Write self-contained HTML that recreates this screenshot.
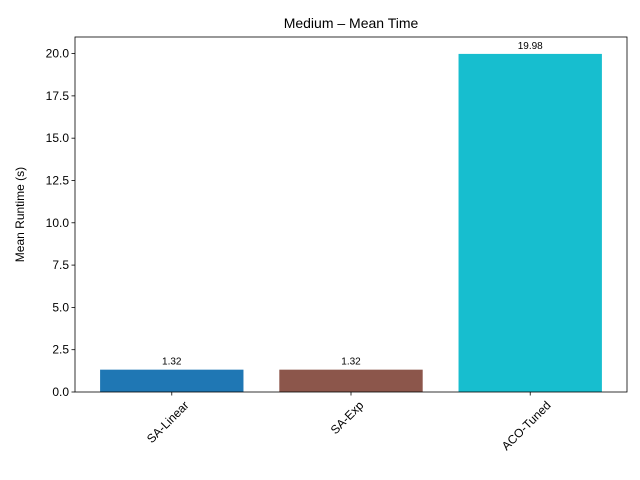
<!DOCTYPE html>
<html><head><meta charset="utf-8"><style>body{margin:0;background:#fff}svg{display:block;font-family:"Liberation Sans","DejaVu Sans",sans-serif}</style></head>
<body>
<svg id="chart" width="640" height="480" viewBox="0 0 640 480" xmlns="http://www.w3.org/2000/svg"></svg>
<script>
const categories = ["SA-Linear","SA-Exp","ACO-Tuned"];
const values = [1.32, 1.32, 19.98];
const labels = ["1.32","1.32","19.98"];
const yTicks = [0,2.5,5,7.5,10,12.5,15,17.5,20];
const yTickLabels = ["0.0","2.5","5.0","7.5","10.0","12.5","15.0","17.5","20.0"];
const colors = ["#1f77b4","#8c564b","#17becf"];

const L=75,R=627,T=37,B=392;
const ns="http://www.w3.org/2000/svg";
const svg=document.getElementById('chart');
const yMax=Math.max(...values)*1.05;
const xMin=-0.54,xMax=categories.length-1+0.54;
const x=v=>L+(v-xMin)/(xMax-xMin)*(R-L);
const y=v=>B-v/yMax*(B-T);
function mk(tag,attrs,parent){const e=document.createElementNS(ns,tag);for(const k in attrs)e.setAttribute(k,attrs[k]);(parent||svg).appendChild(e);return e;}

values.forEach((v,i)=>{
  const r=mk('rect',{x:x(i-0.4),y:y(v),width:x(i+0.4)-x(i-0.4),height:B-y(v),fill:colors[i]});
  
  
  const t=mk('text',{x:x(i),y:y(v)-5,'text-anchor':'middle','font-size':'10',fill:'#000'});
  t.textContent=labels[i];
  
  
  const tk=mk('line',{x1:x(i),x2:x(i),y1:B,y2:B+3.5,stroke:'#000','stroke-width':0.8});
  
  
  const xt=mk('text',{'text-anchor':'middle','font-size':'12',fill:'#000'});
  xt.textContent=categories[i];
  
  
  const w=xt.getComputedTextLength();
  const cy=B+7+(w+12)*0.707/2;
  xt.setAttribute('transform',`translate(${x(i)-4},${cy}) rotate(-45) translate(0,4)`);
});
yTicks.forEach((v,i)=>{
  const tk=mk('line',{x1:L-3.5,x2:L,y1:y(v),y2:y(v),stroke:'#000','stroke-width':0.8});
  
  
  const t=mk('text',{x:L-6,y:y(v)+4,'text-anchor':'end','font-size':'12',fill:'#000'});
  t.textContent=yTickLabels[i];
  
  
});
const f=mk('rect',{x:L,y:T,width:R-L,height:B-T,fill:'none',stroke:'#000','stroke-width':0.8});


const ti=mk('text',{x:(L+R)/2,y:28,'text-anchor':'middle','font-size':'14',fill:'#000'});
ti.textContent="Medium – Mean Time";


const yl=mk('text',{transform:`translate(24,${(T+B)/2}) rotate(-90)`,'text-anchor':'middle','font-size':'12',fill:'#000'});
yl.textContent="Mean Runtime (s)";


</script>
</body></html>
